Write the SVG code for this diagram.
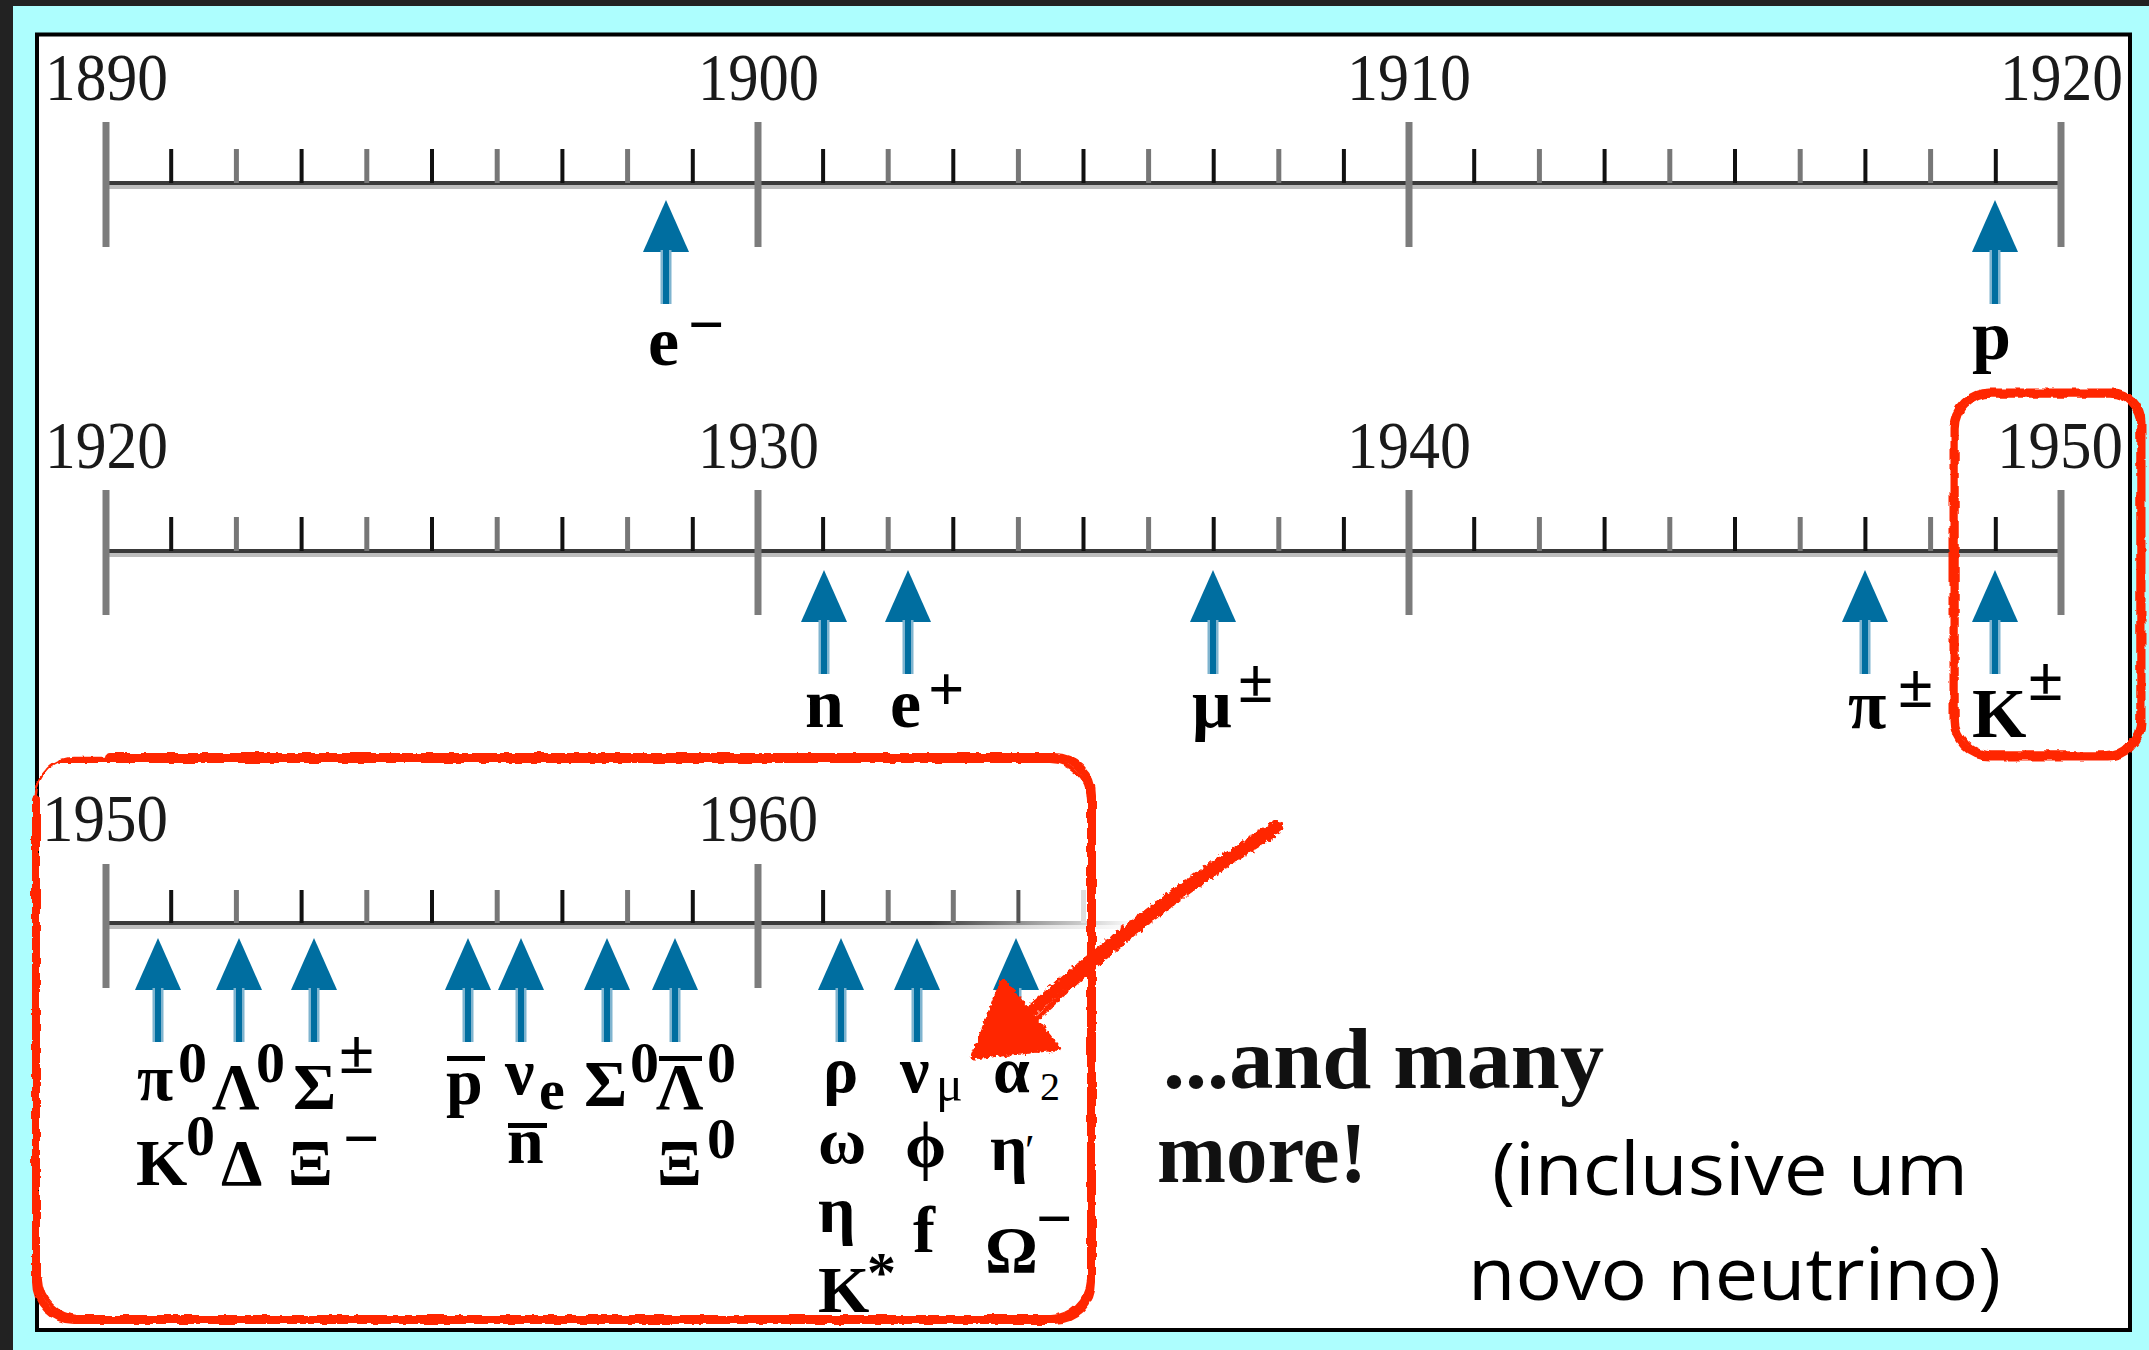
<svg xmlns="http://www.w3.org/2000/svg" width="2149" height="1350" viewBox="0 0 2149 1350">
<style>
.yr{font-family:"Liberation Serif",serif;font-size:68px;fill:#1a1a1a}
.pl{font-family:"Liberation Serif","DejaVu Serif",serif;font-weight:bold;font-size:70px;fill:#000}
.p3{font-size:66px}
.sup{font-size:58px}
.pm{font-size:64px}
.reg{font-weight:normal}
.ax{stroke:#3a3a3a;stroke-width:4}
.axs{stroke:#bdbdbd;stroke-width:4}
.maj{stroke:#7c7c7c;stroke-width:7}
.mo{stroke:#111;stroke-width:4}
.me{stroke:#777;stroke-width:5}
.red{fill:none;stroke:#ff2600;stroke-linecap:round;stroke-linejoin:round}
.big{font-family:"Liberation Serif",serif;font-weight:bold;font-size:86px;fill:#111}
.pt{font-family:"Open Sans","Noto Sans",sans-serif;font-size:74px;fill:#000}
</style>
<defs>
<g id="arr">
<polygon points="0,0 -23,52 23,52" fill="#006ea0"/>
<rect x="-5.5" y="50" width="11" height="54" fill="#7fb4cf"/>
<rect x="-3" y="50" width="6" height="54" fill="#006ea0"/>
</g>
<linearGradient id="fade" gradientUnits="userSpaceOnUse" x1="930" y1="0" x2="1135" y2="0">
<stop offset="0" stop-color="#3a3a3a" stop-opacity="1"/>
<stop offset="1" stop-color="#3a3a3a" stop-opacity="0"/>
</linearGradient>
<linearGradient id="fade2" gradientUnits="userSpaceOnUse" x1="930" y1="0" x2="1135" y2="0">
<stop offset="0" stop-color="#bdbdbd" stop-opacity="1"/>
<stop offset="1" stop-color="#bdbdbd" stop-opacity="0"/>
</linearGradient>
<filter id="rough" filterUnits="userSpaceOnUse" x="0" y="0" width="2149" height="1350">
<feTurbulence type="fractalNoise" baseFrequency="0.09" numOctaves="2" seed="4"/>
<feDisplacementMap in="SourceGraphic" scale="5" xChannelSelector="R" yChannelSelector="G"/>
</filter>
<filter id="rough2" filterUnits="userSpaceOnUse" x="0" y="0" width="2149" height="1350">
<feTurbulence type="fractalNoise" baseFrequency="0.25" numOctaves="2" seed="7"/>
<feDisplacementMap in="SourceGraphic" scale="7" xChannelSelector="R" yChannelSelector="G"/>
</filter>
</defs>

<g id="background">
<rect x="0" y="0" width="2149" height="1350" fill="#adfefe"/>
<rect x="0" y="0" width="2149" height="6" fill="#222"/>
<rect x="0" y="0" width="13" height="1350" fill="#222"/>
<rect x="37" y="34.5" width="2093" height="1295.5" fill="#fff" stroke="#000" stroke-width="4"/>
</g>

<g id="timeline-1890-1920">
<line class="axs" x1="106" y1="187" x2="2061" y2="187"/>
<line class="ax" x1="106" y1="183" x2="2061" y2="183"/>
<g>
<line class="mo" x1="171.2" y1="149" x2="171.2" y2="183"/><line class="me" x1="236.4" y1="149" x2="236.4" y2="183"/>
<line class="mo" x1="301.6" y1="149" x2="301.6" y2="183"/><line class="me" x1="366.8" y1="149" x2="366.8" y2="183"/>
<line class="mo" x1="432" y1="149" x2="432" y2="183"/><line class="me" x1="497.2" y1="149" x2="497.2" y2="183"/>
<line class="mo" x1="562.4" y1="149" x2="562.4" y2="183"/><line class="me" x1="627.6" y1="149" x2="627.6" y2="183"/>
<line class="mo" x1="692.8" y1="149" x2="692.8" y2="183"/>
<line class="mo" x1="823.1" y1="149" x2="823.1" y2="183"/><line class="me" x1="888.2" y1="149" x2="888.2" y2="183"/>
<line class="mo" x1="953.3" y1="149" x2="953.3" y2="183"/><line class="me" x1="1018.4" y1="149" x2="1018.4" y2="183"/>
<line class="mo" x1="1083.5" y1="149" x2="1083.5" y2="183"/><line class="me" x1="1148.6" y1="149" x2="1148.6" y2="183"/>
<line class="mo" x1="1213.7" y1="149" x2="1213.7" y2="183"/><line class="me" x1="1278.8" y1="149" x2="1278.8" y2="183"/>
<line class="mo" x1="1343.9" y1="149" x2="1343.9" y2="183"/>
<line class="mo" x1="1474.2" y1="149" x2="1474.2" y2="183"/><line class="me" x1="1539.4" y1="149" x2="1539.4" y2="183"/>
<line class="mo" x1="1604.6" y1="149" x2="1604.6" y2="183"/><line class="me" x1="1669.8" y1="149" x2="1669.8" y2="183"/>
<line class="mo" x1="1735" y1="149" x2="1735" y2="183"/><line class="me" x1="1800.2" y1="149" x2="1800.2" y2="183"/>
<line class="mo" x1="1865.4" y1="149" x2="1865.4" y2="183"/><line class="me" x1="1930.6" y1="149" x2="1930.6" y2="183"/>
<line class="mo" x1="1995.8" y1="149" x2="1995.8" y2="183"/>
</g>
<line class="maj" x1="106" y1="122" x2="106" y2="247"/>
<line class="maj" x1="758" y1="122" x2="758" y2="247"/>
<line class="maj" x1="1409" y1="122" x2="1409" y2="247"/>
<line class="maj" x1="2061" y1="122" x2="2061" y2="247"/>
<text class="yr" x="45" y="100" textLength="123" lengthAdjust="spacingAndGlyphs">1890</text>
<text class="yr" x="698" y="100" textLength="121" lengthAdjust="spacingAndGlyphs">1900</text>
<text class="yr" x="1347" y="100" textLength="124" lengthAdjust="spacingAndGlyphs">1910</text>
<text class="yr" x="2000" y="100" textLength="123" lengthAdjust="spacingAndGlyphs">1920</text>
</g>

<g id="timeline-1920-1950">
<line class="axs" x1="106" y1="555" x2="2061" y2="555"/>
<line class="ax" x1="106" y1="551" x2="2061" y2="551"/>
<g>
<line class="mo" x1="171.2" y1="517" x2="171.2" y2="551"/><line class="me" x1="236.4" y1="517" x2="236.4" y2="551"/>
<line class="mo" x1="301.6" y1="517" x2="301.6" y2="551"/><line class="me" x1="366.8" y1="517" x2="366.8" y2="551"/>
<line class="mo" x1="432" y1="517" x2="432" y2="551"/><line class="me" x1="497.2" y1="517" x2="497.2" y2="551"/>
<line class="mo" x1="562.4" y1="517" x2="562.4" y2="551"/><line class="me" x1="627.6" y1="517" x2="627.6" y2="551"/>
<line class="mo" x1="692.8" y1="517" x2="692.8" y2="551"/>
<line class="mo" x1="823.1" y1="517" x2="823.1" y2="551"/><line class="me" x1="888.2" y1="517" x2="888.2" y2="551"/>
<line class="mo" x1="953.3" y1="517" x2="953.3" y2="551"/><line class="me" x1="1018.4" y1="517" x2="1018.4" y2="551"/>
<line class="mo" x1="1083.5" y1="517" x2="1083.5" y2="551"/><line class="me" x1="1148.6" y1="517" x2="1148.6" y2="551"/>
<line class="mo" x1="1213.7" y1="517" x2="1213.7" y2="551"/><line class="me" x1="1278.8" y1="517" x2="1278.8" y2="551"/>
<line class="mo" x1="1343.9" y1="517" x2="1343.9" y2="551"/>
<line class="mo" x1="1474.2" y1="517" x2="1474.2" y2="551"/><line class="me" x1="1539.4" y1="517" x2="1539.4" y2="551"/>
<line class="mo" x1="1604.6" y1="517" x2="1604.6" y2="551"/><line class="me" x1="1669.8" y1="517" x2="1669.8" y2="551"/>
<line class="mo" x1="1735" y1="517" x2="1735" y2="551"/><line class="me" x1="1800.2" y1="517" x2="1800.2" y2="551"/>
<line class="mo" x1="1865.4" y1="517" x2="1865.4" y2="551"/><line class="me" x1="1930.6" y1="517" x2="1930.6" y2="551"/>
<line class="mo" x1="1995.8" y1="517" x2="1995.8" y2="551"/>
</g>
<line class="maj" x1="106" y1="490" x2="106" y2="615"/>
<line class="maj" x1="758" y1="490" x2="758" y2="615"/>
<line class="maj" x1="1409" y1="490" x2="1409" y2="615"/>
<line class="maj" x1="2061" y1="490" x2="2061" y2="615"/>
<text class="yr" x="45" y="468" textLength="123" lengthAdjust="spacingAndGlyphs">1920</text>
<text class="yr" x="698" y="468" textLength="121" lengthAdjust="spacingAndGlyphs">1930</text>
<text class="yr" x="1347" y="468" textLength="124" lengthAdjust="spacingAndGlyphs">1940</text>
<text class="yr" x="1997" y="468" textLength="126" lengthAdjust="spacingAndGlyphs">1950</text>
</g>

<g id="timeline-1950-1965">
<line x1="106" y1="927" x2="1135" y2="927" stroke="url(#fade2)" stroke-width="4"/>
<line x1="106" y1="923" x2="1135" y2="923" stroke="url(#fade)" stroke-width="4"/>
<g>
<line class="mo" x1="171.2" y1="890" x2="171.2" y2="923"/><line class="me" x1="236.4" y1="890" x2="236.4" y2="923"/>
<line class="mo" x1="301.6" y1="890" x2="301.6" y2="923"/><line class="me" x1="366.8" y1="890" x2="366.8" y2="923"/>
<line class="mo" x1="432" y1="890" x2="432" y2="923"/><line class="me" x1="497.2" y1="890" x2="497.2" y2="923"/>
<line class="mo" x1="562.4" y1="890" x2="562.4" y2="923"/><line class="me" x1="627.6" y1="890" x2="627.6" y2="923"/>
<line class="mo" x1="692.8" y1="890" x2="692.8" y2="923"/>
<line class="mo" x1="823.1" y1="890" x2="823.1" y2="923"/><line class="me" x1="888.2" y1="890" x2="888.2" y2="923"/>
<line class="me" x1="953.3" y1="890" x2="953.3" y2="923"/><line x1="1018.4" y1="890" x2="1018.4" y2="923" stroke="#555" stroke-width="4"/>
<line x1="1083.5" y1="890" x2="1083.5" y2="923" stroke="#ddd" stroke-width="5"/>
</g>
<line class="maj" x1="106" y1="864" x2="106" y2="988"/>
<line class="maj" x1="758" y1="864" x2="758" y2="988"/>
<text class="yr" x="42" y="841" textLength="126" lengthAdjust="spacingAndGlyphs">1950</text>
<text class="yr" x="698" y="841" textLength="120" lengthAdjust="spacingAndGlyphs">1960</text>
</g>

<g id="connectors">
<use href="#arr" x="666" y="200"/>
<use href="#arr" x="1995" y="200"/>
<use href="#arr" x="824" y="570"/>
<use href="#arr" x="908" y="570"/>
<use href="#arr" x="1213" y="570"/>
<use href="#arr" x="1865" y="570"/>
<use href="#arr" x="1995" y="570"/>
<use href="#arr" x="158" y="938"/>
<use href="#arr" x="239" y="938"/>
<use href="#arr" x="314" y="938"/>
<use href="#arr" x="468" y="938"/>
<use href="#arr" x="521" y="938"/>
<use href="#arr" x="607" y="938"/>
<use href="#arr" x="675" y="938"/>
<use href="#arr" x="841" y="938"/>
<use href="#arr" x="917" y="938"/>
<use href="#arr" x="1016" y="938"/>
</g>

<g id="label-electron"><text class="pl"><tspan x="648" y="365">e</tspan><tspan class="pm" x="688" y="346">−</tspan></text></g>
<g id="label-proton"><text class="pl" font-size="74"><tspan x="1972" y="359">p</tspan></text></g>

<g id="label-neutron"><text class="pl" x="805" y="727">n</text></g>
<g id="label-positron"><text class="pl"><tspan x="890" y="727">e</tspan><tspan class="pm" x="928" y="710">+</tspan></text></g>
<g id="label-muon"><text class="pl"><tspan x="1192" y="727">μ</tspan><tspan class="pm" x="1238" y="702">±</tspan></text></g>
<g id="label-pion"><text class="pl"><tspan x="1848" y="728">π</tspan><tspan class="pm" x="1898" y="707">±</tspan></text></g>
<g id="label-kaon"><text class="pl"><tspan x="1972" y="737">K</tspan><tspan class="pm" x="2028" y="700">±</tspan></text></g>

<g id="label-1950s-a">
<text class="pl p3"><tspan x="137" y="1100">π</tspan><tspan class="sup" x="178" y="1082">0</tspan><tspan x="212" y="1109">Λ</tspan><tspan class="sup" x="256" y="1082">0</tspan><tspan x="293" y="1109">Σ</tspan><tspan class="pm" x="339" y="1073">±</tspan></text>
<text class="pl p3"><tspan x="136" y="1185">K</tspan><tspan class="sup" x="186" y="1155">0</tspan><tspan x="221" y="1185">Δ</tspan><tspan x="288" y="1185">Ξ</tspan><tspan class="pm" x="343" y="1160">−</tspan></text>
</g>
<g id="label-1950s-b">
<text class="pl p3"><tspan x="446" y="1104">p</tspan><tspan x="505" y="1094">ν</tspan><tspan class="sup" x="539" y="1109">e</tspan><tspan x="584" y="1106">Σ</tspan><tspan class="sup" x="630" y="1082">0</tspan><tspan x="656" y="1109">Λ</tspan><tspan class="sup" x="707" y="1082">0</tspan></text>
<rect x="447" y="1056" width="38" height="5"/>
<rect x="659" y="1056" width="43" height="5"/>
<text class="pl p3"><tspan x="507" y="1163">n</tspan><tspan x="657" y="1185">Ξ</tspan><tspan class="sup" x="707" y="1158">0</tspan></text>
<rect x="508" y="1123" width="39" height="5"/>
</g>
<g id="label-1960s">
<text class="pl p3"><tspan x="823" y="1092">ρ</tspan><tspan x="900" y="1092">ν</tspan><tspan class="reg" font-size="50" x="936" y="1101">μ</tspan><tspan x="993" y="1092">α</tspan><tspan class="reg" font-size="40" x="1040" y="1100">2</tspan></text>
<text class="pl p3"><tspan x="818" y="1163">ω</tspan><tspan x="905" y="1167">ϕ</tspan><tspan x="990" y="1170">η</tspan><tspan class="reg" font-size="44" x="1025" y="1165">′</tspan></text>
<text class="pl p3"><tspan x="818" y="1232">η</tspan><tspan x="913" y="1252">f</tspan><tspan x="985" y="1272">Ω</tspan><tspan class="pm" x="1036" y="1240">−</tspan></text>
<text class="pl p3"><tspan x="818" y="1312">K</tspan><tspan class="sup" x="867" y="1292">*</tspan></text>
</g>

<g id="note-many">
<text class="big" x="1163" y="1088" textLength="441" lengthAdjust="spacingAndGlyphs">...and many</text>
<text class="big" x="1157" y="1182" textLength="210" lengthAdjust="spacingAndGlyphs">more!</text>
</g>
<g id="note-neutrino">
<text class="pt" x="1492" y="1195" textLength="476" lengthAdjust="spacingAndGlyphs">(inclusive um</text>
<text class="pt" x="1468" y="1300" textLength="533" lengthAdjust="spacingAndGlyphs">novo neutrino)</text>
</g>

<g id="annotations">
<g filter="url(#rough)">
<path class="red" stroke-width="8" d="M 110 757 H 1054 A 38 38 0 0 1 1092 795 V 1282 A 38 38 0 0 1 1054 1320 H 74 A 38 38 0 0 1 36 1282 V 800"/>
<path class="red" stroke-width="2.5" d="M 36 830 V 795 A 38 38 0 0 1 74 758 H 130"/>
<path class="red" stroke-width="4" d="M 60 761 H 1050 A 40 40 0 0 1 1089 800 V 1280 A 40 40 0 0 1 1050 1317 H 78 A 40 40 0 0 1 40 1279"/>
<path class="red" stroke-width="7" d="M 1990 392 H 2112 A 30 30 0 0 1 2142 422 V 722 A 35 35 0 0 1 2107 757 H 1990 A 37 37 0 0 1 1953 720 V 428 A 36 36 0 0 1 1990 392 Z"/>
<path class="red" stroke-width="3.5" d="M 1992 396 H 2110 A 28 28 0 0 1 2138 424 V 720 A 33 33 0 0 1 2105 753 H 1992 A 35 35 0 0 1 1957 718 V 430 A 34 34 0 0 1 1992 396 Z"/>
</g>
<g filter="url(#rough2)">
<path class="red" stroke-width="12" d="M 1277 826 Q 1150 905 1030 1012"/>
<path class="red" stroke-width="5" d="M 1272 836 Q 1150 910 1035 1020"/>
<polygon points="973,1057 1003,980 1058,1048" fill="#ff2600" stroke="#ff2600" stroke-width="5" stroke-linejoin="round"/>
</g>
</g>
</svg>
